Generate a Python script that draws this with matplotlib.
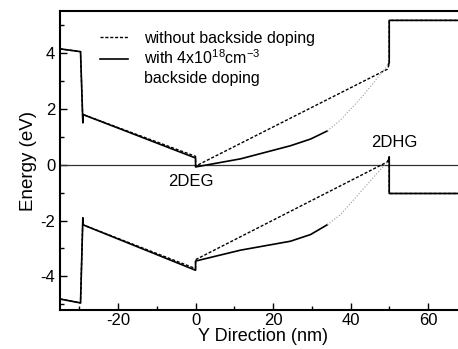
import matplotlib
matplotlib.use('Agg')
import matplotlib.pyplot as plt
from matplotlib.lines import Line2D
from matplotlib.ticker import MultipleLocator

plt.rcParams['font.family'] = ['Liberation Sans', 'DejaVu Sans']
plt.rcParams['axes.unicode_minus'] = False
plt.rcParams['mathtext.fontset'] = 'custom'
plt.rcParams['mathtext.rm'] = 'Liberation Sans'
plt.rcParams['mathtext.default'] = 'regular'

# conduction band, with backside doping (solid)
x_cb_with = [-35, -29.7, -29.1, -29.1, 0, 0, 11.6, 24.5, 29.7, 34]
cb_with = [4.15, 4.05, 1.5, 1.8, 0.24, -0.08, 0.21, 0.68, 0.92, 1.21]
# faint continuation of the solid curve up to the barrier
x_cb_tail = [34, 37.4, 43.4, 49.8]
cb_tail = [1.21, 1.6, 2.5, 3.6]
x_cb_right = [49.8, 50, 50, 70]
cb_right = [3.6, 3.65, 5.17, 5.17]

# valence band, with backside doping (solid)
x_vb_with = [-35, -29.7, -29.1, -29.1, 0, 0, 11.6, 24.5, 29.7, 34]
vb_with = [-4.81, -4.95, -1.9, -2.15, -3.78, -3.45, -3.06, -2.74, -2.5, -2.15]
x_vb_tail = [34, 37.4, 43.4, 49.8]
vb_tail = [-2.15, -1.79, -0.85, 0.15]
x_vb_right = [49.8, 50, 50, 70]
vb_right = [0.15, 0.28, -1.03, -1.03]

# without backside doping (dashed)
x_without = [-35, -29.7, -29.1, -29.1, 0, 0, 49.5, 50, 50, 70]
cb_without = [4.15, 4.05, 1.5, 1.8, 0.3, -0.05, 3.42, 3.6, 5.17, 5.17]
vb_without = [-4.81, -4.95, -1.9, -2.15, -3.72, -3.4, 0.1, 0.28, -1.03, -1.03]

fig = plt.figure(figsize=(4.58, 3.49), dpi=100)
ax = fig.add_axes([0.131, 0.112, 0.888, 0.856])

dash = (0, (2.2, 1.3))
ax.axhline(0, color='#333333', lw=0.9)

ax.plot(x_without, cb_without, color='black', lw=1.0, ls=dash)
ax.plot(x_without, vb_without, color='black', lw=1.0, ls=dash)

ax.plot(x_cb_with, cb_with, color='black', lw=1.2)
ax.plot(x_vb_with, vb_with, color='black', lw=1.2)
ax.plot(x_cb_tail, cb_tail, color='#999999', lw=0.8, ls=':')
ax.plot(x_vb_tail, vb_tail, color='#999999', lw=0.8, ls=':')
ax.plot(x_cb_right, cb_right, color='black', lw=1.2)
ax.plot(x_vb_right, vb_right, color='black', lw=1.2)

ax.text(-1.3, -0.6, '2DEG', fontsize=12, ha='center', va='center')
ax.text(51.4, 0.81, '2DHG', fontsize=12, ha='center', va='center')

handles = [Line2D([], [], color='black', lw=1.0, ls=dash),
           Line2D([], [], color='black', lw=1.2),
           Line2D([], [], color='none')]
labels = ['without backside doping', 'with 4x10$^{18}$cm$^{-3}$', 'backside doping']
ax.legend(handles, labels, loc='upper left', bbox_to_anchor=(0.098, 0.935),
          frameon=False, fontsize=11.5, handlelength=1.75, handletextpad=1.0,
          labelspacing=0.2, borderpad=0, borderaxespad=0)

ax.set_xlim(-35, 70)
ax.set_ylim(-5.2, 5.5)
ax.xaxis.set_major_locator(MultipleLocator(20))
ax.xaxis.set_minor_locator(MultipleLocator(10))
ax.yaxis.set_major_locator(MultipleLocator(2))
ax.yaxis.set_minor_locator(MultipleLocator(1))
ax.tick_params(which='both', direction='in', top=False, right=False, width=1)
ax.tick_params(which='major', length=5, labelsize=12)
ax.tick_params(axis='x', pad=2.5)
ax.tick_params(which='minor', length=3)
for s in ax.spines.values():
    s.set_linewidth(1.5)

ax.set_xlabel('Y Direction (nm)', fontsize=13, labelpad=0)
ax.set_ylabel('Energy (eV)', fontsize=13.5, labelpad=2)

fig.savefig('out.png', dpi=100)
